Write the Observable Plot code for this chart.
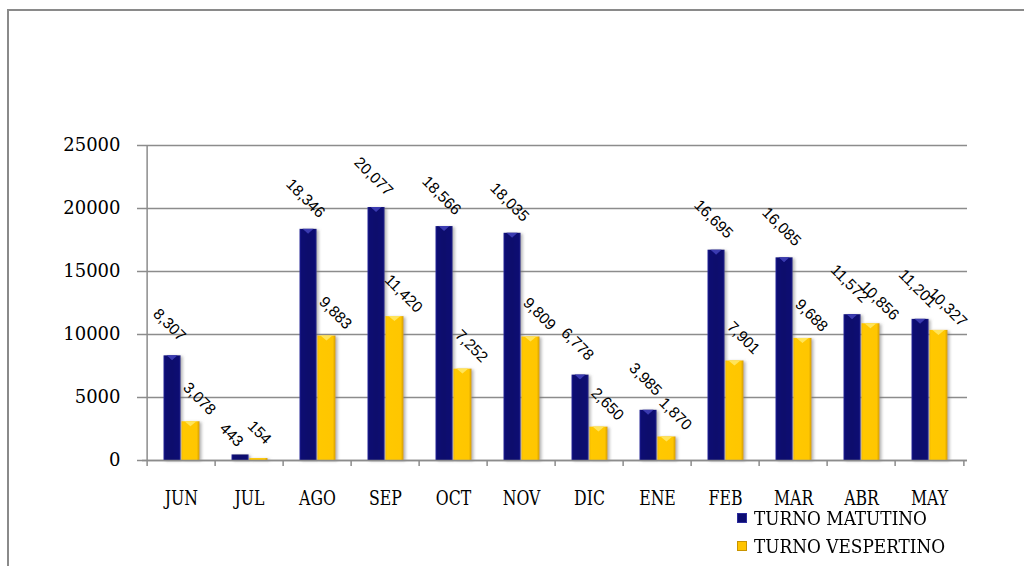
<!DOCTYPE html>
<html>
<head>
<meta charset="utf-8">
<script src="https://cdn.jsdelivr.net/npm/d3@7"></script>
<script src="https://cdn.jsdelivr.net/npm/@observablehq/plot@0.6"></script>
<style>
  html, body { margin: 0; padding: 0; background: #fff; width: 1024px; height: 566px; overflow: hidden; }
  #wrap { position: relative; width: 1024px; height: 566px; }
  #frame { position: absolute; left: 7px; top: 9px; width: 1100px; height: 700px; border-left: 2px solid #8a8a8a; border-top: 2px solid #8a8a8a; box-sizing: border-box; }
  #chart { position: absolute; left: 0; top: 0; }
</style>
</head>
<body>
<div id="wrap">
  <div id="frame"></div>
  <div id="chart"></div>
</div>
<script>
const months = ["JUN","JUL","AGO","SEP","OCT","NOV","DIC","ENE","FEB","MAR","ABR","MAY"];
const matutino = [8307, 443, 18346, 20077, 18566, 18035, 6778, 3985, 16695, 16085, 11572, 11201];
const vespertino = [3078, 154, 9883, 11420, 7252, 9809, 2650, 1870, 7901, 9688, 10856, 10327];
const yTicks = [0, 5000, 10000, 15000, 20000, 25000];
const seriesNames = ["TURNO MATUTINO", "TURNO VESPERTINO"];

const dataM = months.map((m, i) => ({month: m, value: matutino[i]}));
const dataV = months.map((m, i) => ({month: m, value: vespertino[i]}));

const bw = (1024 - 142 - 57) / 12;
const fmt = d3.format(",");
const grid = "#8c8c8c";
const catFont = "DejaVu Serif Condensed";
const small = d => d.value < 1000;
const big = d => d.value >= 1000;
const lbl = {rotate: 45, fontSize: 15.5, fontFamily: "Liberation Sans", fill: "#000", text: d => fmt(d.value), x: "month", y: "value"};

const plot = Plot.plot({
  width: 1024,
  height: 566,
  marginLeft: 142,
  marginRight: 57,
  marginTop: 145,
  marginBottom: 106,
  x: {domain: months, padding: 0, axis: null, label: null},
  y: {domain: [0, 25000], axis: null, label: null},
  style: {background: "transparent", overflow: "visible"},
  marks: [
    Plot.gridY(yTicks, {stroke: grid, strokeOpacity: 1, strokeWidth: 1.5}),
    Plot.axisY(yTicks, {label: null, tickSize: 5, tickPadding: 17, stroke: grid, strokeWidth: 1.5, fill: "#000",
      fontSize: 18, fontFamily: "DejaVu Serif", tickFormat: d => String(d)}),
    Plot.ruleX(["JUN"], {x: d => d, dx: -bw / 2, y1: 0, y2: 25000, stroke: grid, strokeWidth: 1.5}),
    Plot.barY(dataM, {x: "month", y: "value", fill: "url(#gNavy)", insetLeft: 16.5, insetRight: 34.4}),
    Plot.barY(dataV, {x: "month", y: "value", fill: "url(#gGold)", insetLeft: 34.4, insetRight: 15.5}),
    Plot.ruleY([0], {stroke: grid, strokeWidth: 1.5}),
    Plot.ruleX(months, {x: d => d, dx: -bw / 2, y1: -476, y2: 0, stroke: grid, strokeWidth: 1.5}),
    Plot.ruleX(["MAY"], {x: d => d, dx: bw / 2, y1: -476, y2: 0, stroke: grid, strokeWidth: 1.5}),
    Plot.axisX({label: null, tickSize: 0, tickPadding: 29.5, fontSize: 20.5, fontFamily: catFont, fill: "#000"}),
    Plot.text(dataM.filter(big), {...lbl, dx: -12, dy: -31}),
    Plot.text(dataM.filter(small), {...lbl, dx: -18, dy: -20}),
    Plot.text(dataV.filter(big), {...lbl, dx: 18, dy: -23}),
    Plot.text(dataV.filter(small), {...lbl, dx: 10, dy: -26})
  ]
});

document.getElementById("chart").appendChild(plot);

// gradients and shadow for the bevelled bars
const ns = "http://www.w3.org/2000/svg";
const defs = document.createElementNS(ns, "defs");
defs.innerHTML = `
  <linearGradient id="gNavy" x1="0" x2="1" y1="0" y2="0">
    <stop offset="0" stop-color="#2b2b9c"/>
    <stop offset="0.1" stop-color="#0c0c72"/>
    <stop offset="0.5" stop-color="#0a0a6c"/>
    <stop offset="0.88" stop-color="#0c0c72"/>
    <stop offset="1" stop-color="#20208a"/>
  </linearGradient>
  <linearGradient id="gGold" x1="0" x2="1" y1="0" y2="0">
    <stop offset="0" stop-color="#f2b800"/>
    <stop offset="0.1" stop-color="#ffc800"/>
    <stop offset="0.85" stop-color="#ffc600"/>
    <stop offset="1" stop-color="#d29c00"/>
  </linearGradient>
  <filter id="shadow" x="-30%" y="-10%" width="160%" height="120%">
    <feDropShadow dx="2" dy="1" stdDeviation="1.5" flood-color="#777" flood-opacity="0.55"/>
  </filter>`;
plot.insertBefore(defs, plot.firstChild);

// bevel triangles on top of each bar, derived from the rendered bars
const barGroups = plot.querySelectorAll('g[aria-label="bar"]');
const triFill = ["#3a3ab0", "#ffe45a"];
barGroups.forEach((g, gi) => {
  g.setAttribute("filter", "url(#shadow)");
  g.querySelectorAll("rect").forEach(r => {
    const x = +r.getAttribute("x"), y = +r.getAttribute("y");
    const w = +r.getAttribute("width"), h = +r.getAttribute("height");
    if (h < 6) return;
    const p = document.createElementNS(ns, "polygon");
    p.setAttribute("points", `${x + 3},${y} ${x + w - 3},${y} ${x + w / 2},${y + 5}`);
    p.setAttribute("fill", triFill[gi % 2]);
    g.appendChild(p);
  });
});

// condense month labels to the narrow look of the original ("JUN" ≈ 35px wide)
const xg = plot.querySelector('[aria-label="x-axis tick label"]');
if (xg) {
  const texts = Array.from(xg.querySelectorAll("text"));
  const first = texts[0].getBBox();
  const s = Math.min(1, 35 / first.width);
  texts.forEach(t => {
    const b = t.getBBox();
    const cx = b.x + b.width / 2;
    const prev = t.getAttribute("transform") || "";
    t.setAttribute("transform", `${prev} translate(${cx},0) scale(${s},1) translate(${-cx},0)`);
  });
}

// legend
const wrap = document.getElementById("wrap");
const legColors = ["#0c0c72", "#ffc400"];
const legBorders = ["#2b2b9c", "#c89400"];
const legTops = [509, 537];
const rows = seriesNames.map((name, i) => {
  const row = document.createElement("div");
  row.style.cssText = `position:absolute;left:737px;top:${legTops[i]}px;height:24px;width:280px;`;
  const sw = document.createElement("div");
  sw.style.cssText = `position:absolute;left:0;top:4px;width:10px;height:10px;background:${legColors[i]};box-shadow:inset 0 0 0 1px ${legBorders[i]};`;
  const tx = document.createElement("span");
  tx.textContent = name;
  tx.style.cssText = `position:absolute;left:17px;top:0;font-family:'${catFont}','Liberation Serif',serif;font-size:19px;line-height:19px;color:#000;white-space:nowrap;transform-origin:0 50%;`;
  row.appendChild(sw);
  row.appendChild(tx);
  wrap.appendChild(row);
  return tx;
});
const legScale = Math.min(1, 173 / rows[0].getBoundingClientRect().width);
rows.forEach(tx => { tx.style.transform = `scaleX(${legScale})`; });
</script>
</body>
</html>
